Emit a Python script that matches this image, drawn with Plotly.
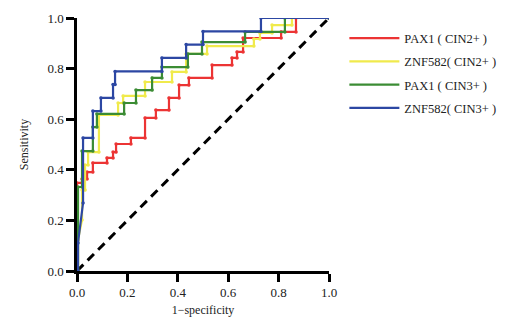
import plotly.graph_objects as go

# ROC step curves (1-specificity, sensitivity)
pax1_cin2_x = [0, 0, 0.020, 0.020, 0.040, 0.040, 0.063, 0.063, 0.119, 0.119, 0.143, 0.143, 0.155, 0.155,
               0.214, 0.214, 0.270, 0.270, 0.313, 0.313, 0.365, 0.365, 0.405, 0.405, 0.444, 0.444,
               0.536, 0.536, 0.615, 0.615, 0.635, 0.635, 0.659, 0.659, 0.810, 0.810, 0.869, 0.869, 1.0]
pax1_cin2_y = [0, 0.348, 0.348, 0.364, 0.364, 0.391, 0.391, 0.427, 0.427, 0.447, 0.447, 0.470, 0.470, 0.502,
               0.502, 0.526, 0.526, 0.605, 0.605, 0.636, 0.636, 0.684, 0.684, 0.735, 0.735, 0.763,
               0.763, 0.814, 0.814, 0.842, 0.842, 0.866, 0.866, 0.921, 0.921, 0.945, 0.945, 1.0, 1.0]

znf582_cin2_x = [0, 0.004, 0.004, 0.020, 0.020, 0.032, 0.032, 0.044, 0.044, 0.087, 0.087, 0.163, 0.163,
                 0.183, 0.183, 0.270, 0.270, 0.377, 0.377, 0.433, 0.433, 0.516, 0.516, 0.702, 0.702,
                 0.726, 0.726, 0.774, 0.774, 0.853, 0.853, 1.0]
znf582_cin2_y = [0, 0, 0.123, 0.202, 0.320, 0.320, 0.419, 0.419, 0.470, 0.470, 0.617, 0.617, 0.664,
                 0.664, 0.692, 0.692, 0.747, 0.747, 0.787, 0.787, 0.858, 0.858, 0.889, 0.889, 0.917,
                 0.917, 0.941, 0.941, 0.972, 0.972, 1.0, 1.0]

pax1_cin3_x = [0, 0.004, 0.004, 0.020, 0.020, 0.063, 0.063, 0.079, 0.079, 0.187, 0.187, 0.234, 0.234,
               0.298, 0.298, 0.337, 0.337, 0.440, 0.440, 0.496, 0.496, 0.667, 0.667, 0.825, 0.825, 1.0]
pax1_cin3_y = [0, 0, 0.332, 0.332, 0.474, 0.474, 0.569, 0.569, 0.621, 0.621, 0.664, 0.664, 0.715,
               0.715, 0.763, 0.763, 0.806, 0.806, 0.858, 0.858, 0.905, 0.905, 0.945, 0.945, 1.0, 1.0]

znf582_cin3_x = [0, 0.004, 0.004, 0.024, 0.024, 0.063, 0.063, 0.095, 0.095, 0.143, 0.143, 0.151, 0.151,
                 0.337, 0.337, 0.433, 0.433, 0.500, 0.500, 0.730, 0.730, 1.0]
znf582_cin3_y = [0, 0, 0.111, 0.269, 0.526, 0.526, 0.632, 0.632, 0.684, 0.684, 0.737, 0.737, 0.789,
                 0.789, 0.842, 0.842, 0.895, 0.895, 0.947, 0.947, 1.0, 1.0]

ref_x = [0, 1]
ref_y = [0, 1]

series_names = ["PAX1 ( CIN2+ )", "ZNF582( CIN2+ )", "PAX1 ( CIN3+ )", "ZNF582( CIN3+ )"]
series_colors = ["#ec3434", "#f0ea4c", "#3b8c34", "#2c47a3"]
series_x = [pax1_cin2_x, znf582_cin2_x, pax1_cin3_x, znf582_cin3_x]
series_y = [pax1_cin2_y, znf582_cin2_y, pax1_cin3_y, znf582_cin3_y]

tick_vals = [0, 0.2, 0.4, 0.6, 0.8, 1.0]
tick_text = ["0.0", "0.2", "0.4", "0.6", "0.8", "1.0"]

FONT = "Liberation Serif"

fig = go.Figure()

fig.add_trace(go.Scatter(x=ref_x, y=ref_y, mode="lines", showlegend=False,
                         line=dict(color="black", width=3, dash="9px,6px"), hoverinfo="skip"))

for i, (name, col, xs, ys) in enumerate(zip(series_names, series_colors, series_x, series_y)):
    fig.add_trace(go.Scatter(x=xs, y=ys, mode="lines", name=name, legendgroup=f"g{i}",
                             line=dict(color=col, width=2.2)))
    fig.add_trace(go.Scatter(x=xs, y=ys, mode="markers", showlegend=False, legendgroup=f"g{i}",
                             marker=dict(color=col, size=3.5)))

axis_common = dict(range=[0, 1], tickvals=tick_vals, ticktext=tick_text, showgrid=False, zeroline=False,
                   showline=True, linecolor="black", linewidth=2.5, ticks="outside", ticklen=8,
                   tickwidth=2.5, tickcolor="black", automargin=False,
                   tickfont=dict(family=FONT, size=13, color="#222"))

# page body has an 8px margin, so the figure is 8px smaller than the window
fig.update_layout(
    width=503, height=316,
    margin=dict(l=69, r=182, t=10, b=53, autoexpand=False),
    paper_bgcolor="white", plot_bgcolor="white",
    xaxis=dict(**axis_common, title=dict(text="1−specificity", font=dict(family=FONT, size=12, color="#222"), standoff=7)),
    yaxis=dict(**axis_common, title=dict(text="Sensitivity", font=dict(family=FONT, size=12, color="#222"), standoff=17)),
    legend=dict(x=1.061, y=0.978, xanchor="left", yanchor="top", font=dict(family=FONT, size=12.5, color="#222"),
                tracegroupgap=4, itemwidth=50, bgcolor="rgba(0,0,0,0)"),
    showlegend=True,
)

fig.write_html("out.html")
